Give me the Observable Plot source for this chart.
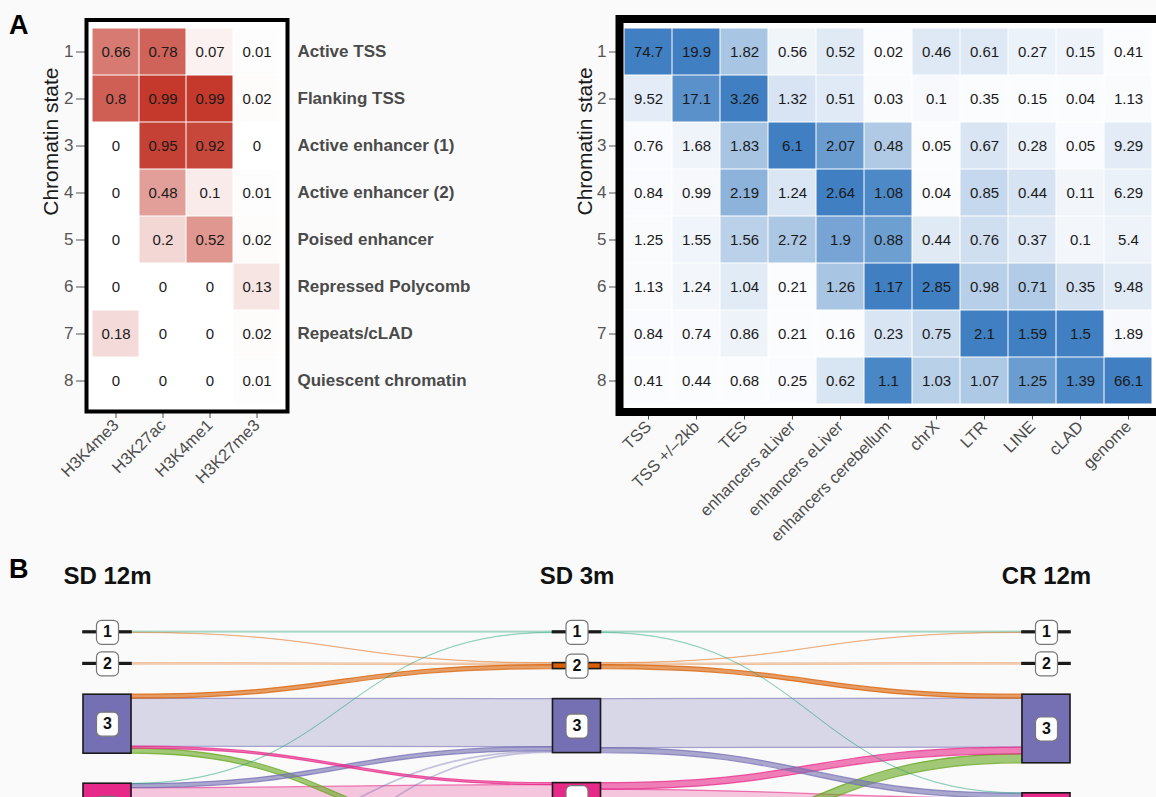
<!DOCTYPE html>
<html><head><meta charset="utf-8">
<script src="https://cdn.jsdelivr.net/npm/d3@7"></script>
<script src="https://cdn.jsdelivr.net/npm/@observablehq/plot@0.6"></script>
<style>
html,body{margin:0;padding:0;background:#fafafa;width:1156px;height:797px;overflow:hidden;font-family:"Liberation Sans",Arial,sans-serif;}
#root{position:relative;width:1156px;height:797px;overflow:hidden;}
.tag{position:absolute;font-weight:bold;font-size:27px;line-height:1;color:#000;}
</style></head><body><div id="root">
<div class="tag" style="left:9px;top:12px">A</div>
<div class="tag" style="left:9px;top:556px">B</div>
</div>
<script>
// ---------- data ----------
const states = [1, 2, 3, 4, 5, 6, 7, 8];
const stateNames = ["Active TSS", "Flanking TSS", "Active enhancer (1)", "Active enhancer (2)",
  "Poised enhancer", "Repressed Polycomb", "Repeats/cLAD", "Quiescent chromatin"];
const histoneMarks = ["H3K4me3", "H3K27ac", "H3K4me1", "H3K27me3"];
const markFreq = [
  [0.66, 0.78, 0.07, 0.01],
  [0.8, 0.99, 0.99, 0.02],
  [0, 0.95, 0.92, 0],
  [0, 0.48, 0.1, 0.01],
  [0, 0.2, 0.52, 0.02],
  [0, 0, 0, 0.13],
  [0.18, 0, 0, 0.02],
  [0, 0, 0, 0.01]
];
const features = ["TSS", "TSS +/\u20132kb", "TES", "enhancers aLiver", "enhancers eLiver",
  "enhancers cerebellum", "chrX", "LTR", "LINE", "cLAD", "genome"];
const enrichment = [
  [74.7, 19.9, 1.82, 0.56, 0.52, 0.02, 0.46, 0.61, 0.27, 0.15, 0.41],
  [9.52, 17.1, 3.26, 1.32, 0.51, 0.03, 0.1, 0.35, 0.15, 0.04, 1.13],
  [0.76, 1.68, 1.83, 6.1, 2.07, 0.48, 0.05, 0.67, 0.28, 0.05, 9.29],
  [0.84, 0.99, 2.19, 1.24, 2.64, 1.08, 0.04, 0.85, 0.44, 0.11, 6.29],
  [1.25, 1.55, 1.56, 2.72, 1.9, 0.88, 0.44, 0.76, 0.37, 0.1, 5.4],
  [1.13, 1.24, 1.04, 0.21, 1.26, 1.17, 2.85, 0.98, 0.71, 0.35, 9.48],
  [0.84, 0.74, 0.86, 0.21, 0.16, 0.23, 0.75, 2.1, 1.59, 1.5, 1.89],
  [0.41, 0.44, 0.68, 0.25, 0.62, 1.1, 1.03, 1.07, 1.25, 1.39, 66.1]
];
const stages = ["SD 12m", "SD 3m", "CR 12m"];
// alluvia: [state at SD 12m, state at SD 3m, state at CR 12m, % of genome]
const alluvia = [
  [1, 1, 1, 0.06], [1, 2, 1, 0.02], [2, 2, 2, 0.08],
  [3, 2, 3, 0.2], [3, 3, 3, 2.4], [3, 4, 3, 0.1], [3, 5, 3, 0.25],
  [4, 1, 4, 0.02], [4, 3, 4, 0.2], [4, 4, 3, 0.23], [4, 4, 4, 1.12], [4, 5, 4, 0.5], [4, 6, 4, 0.4],
  [5, 3, 3, 0.05], [5, 5, 3, 0.2], [5, 5, 5, 1.3], [6, 3, 4, 0.05], [6, 6, 6, 2.0],
  [7, 7, 7, 7.0], [8, 8, 8, 55.0]
];
const labelledStates = [1, 2, 3, 4];
const dark2 = ["#1b9e77", "#d95f02", "#7570b3", "#e7298a", "#66a61e", "#e6ab02", "#a6761d", "#666666"];

const root = document.getElementById("root");
const baseStyle = "background:transparent;max-width:none;position:absolute;left:0;top:0;font-family:'Liberation Sans',Arial,sans-serif;";

// ---------- left heatmap ----------
const cellsA = [];
states.forEach((s, i) => histoneMarks.forEach((m, j) => cellsA.push({state: s, mark: m, v: markFreq[i][j]})));
root.appendChild(Plot.plot({
  width: 560, height: 556,
  marginLeft: 86, marginRight: 560 - 287, marginTop: 19.5, marginBottom: 556 - 411,
  style: baseStyle,
  x: {type: "band", domain: histoneMarks, range: [91, 281], padding: 0},
  y: {type: "band", domain: states, range: [24, 407], padding: 0},
  color: {type: "linear", domain: [0, 1], range: ["#ffffff", "#c3372a"]},
  marks: [
    Plot.frame({fill: "white"}),
    Plot.cell(cellsA, {x: "mark", y: "state", fill: "v", inset: 0.5}),
    Plot.text(cellsA, {x: "mark", y: "state", text: d => String(d.v), fontSize: 15, fill: "#1a1a1a"}),
    Plot.text(stateNames, {y: (d, i) => states[i], text: d => d, frameAnchor: "right", dx: 10, textAnchor: "start",
      fontWeight: "bold", fontSize: 17, fill: "#4a4a4a"}),
    Plot.axisY({tickSize: 10, tickPadding: 3, fontSize: 17, color: "#555", label: null}),
    Plot.axisX({tickRotate: -45, tickSize: 7, tickPadding: 4, fontSize: 16.5, color: "#4d4d4d", label: null}),
    Plot.text(["Chromatin state"], {text: d => d, frameAnchor: "left", rotate: -90, dx: -35, fontSize: 21, fill: "#1a1a1a"}),
    Plot.frame({stroke: "black", strokeWidth: 4})
  ]
}));

// ---------- right heatmap ----------
const colMin = features.map((_, j) => d3.min(enrichment, r => r[j]));
const colMax = features.map((_, j) => d3.max(enrichment, r => r[j]));
const cellsB = [];
states.forEach((s, i) => features.forEach((f, j) => cellsB.push({
  state: s, feature: f, v: enrichment[i][j],
  n: (enrichment[i][j] - colMin[j]) / (colMax[j] - colMin[j])
})));
root.appendChild(Plot.plot({
  width: 1170, height: 556,
  marginLeft: 619, marginRight: 1170 - 1161, marginTop: 18.5, marginBottom: 556 - 411.5,
  style: baseStyle,
  x: {type: "band", domain: features, range: [624, 1152], padding: 0},
  y: {type: "band", domain: states, range: [24, 407], padding: 0},
  color: {type: "linear", domain: [0, 1], range: ["#fbfcfe", "#3f7fc2"]},
  marks: [
    Plot.frame({fill: "white"}),
    Plot.cell(cellsB, {x: "feature", y: "state", fill: "n", inset: 0.5}),
    Plot.text(cellsB, {x: "feature", y: "state", text: d => String(d.v), fontSize: 15, fill: "#1a1a1a"}),
    Plot.axisY({tickSize: 10, tickPadding: 3, fontSize: 17, color: "#555", label: null}),
    Plot.axisX({tickRotate: -45, tickSize: 8, tickPadding: 4, fontSize: 16.5, color: "#4d4d4d", label: null}),
    Plot.text(["Chromatin state"], {text: d => d, frameAnchor: "left", rotate: -90, dx: -34, fontSize: 21, fill: "#1a1a1a"}),
    Plot.frame({stroke: "black", strokeWidth: 8})
  ]
}));

// ---------- alluvial ----------
const gap = 1.5;
const xRange = [107, 1046];
const halfW = 24 / ((xRange[1] - xRange[0]) / 2);
const nodeSize = stages.map((_, k) => {
  const m = new Map(states.map(s => [s, 0]));
  for (const r of alluvia) m.set(r[k], m.get(r[k]) + r[3]);
  return m;
});
const nodeTop = nodeSize.map(m => {
  let acc = 0; const t = new Map();
  for (const s of states) { t.set(s, acc); acc += m.get(s) + gap; }
  return t;
});
const nodes = [];
stages.forEach((_, k) => states.forEach(s => nodes.push({
  stage: k, state: s, y1: nodeTop[k].get(s), y2: nodeTop[k].get(s) + nodeSize[k].get(s)
})));
const segLinks = [0, 1].map(k => {
  const m = new Map();
  for (const r of alluvia) {
    const key = r[k] + "-" + r[k + 1];
    if (!m.has(key)) m.set(key, {k, src: r[k], tgt: r[k + 1], col: r[1], v: 0});
    m.get(key).v += r[3];
  }
  const links = [...m.values()];
  const outOff = new Map(states.map(s => [s, nodeTop[k].get(s)]));
  const inOff = new Map(states.map(s => [s, nodeTop[k + 1].get(s)]));
  [...links].sort((p, q) => p.src - q.src || p.tgt - q.tgt).forEach(l => { l.sy = outOff.get(l.src); outOff.set(l.src, l.sy + l.v); });
  [...links].sort((p, q) => p.tgt - q.tgt || p.src - q.src).forEach(l => { l.ty = inOff.get(l.tgt); inOff.set(l.tgt, l.ty + l.v); });
  return links;
});
const flows = segLinks.flat().sort((p, q) => q.v - p.v);
const flowPts = flows.flatMap((l, i) => [
  {id: i, x: l.k + halfW, y1: l.sy, y2: l.sy + l.v, col: l.col, v: l.v},
  {id: i, x: l.k + 1 - halfW, y1: l.ty, y2: l.ty + l.v, col: l.col, v: l.v}
]);
const roundBox = {
  draw(ctx) {
    const w = 11, h = 12, r = 5;
    ctx.moveTo(-w + r, -h); ctx.lineTo(w - r, -h); ctx.arcTo(w, -h, w, -h + r, r);
    ctx.lineTo(w, h - r); ctx.arcTo(w, h, w - r, h, r);
    ctx.lineTo(-w + r, h); ctx.arcTo(-w, h, -w, h - r, r);
    ctx.lineTo(-w, -h + r); ctx.arcTo(-w, -h, -w + r, -h, r); ctx.closePath();
  }
};
const mid = d => (d.y1 + d.y2) / 2;
const flowStyle = {x: "x", y1: "y1", y2: "y2", z: "id", curve: "bump-x",
  fill: d => dark2[d.col - 1], stroke: d => dark2[d.col - 1]};
root.appendChild(Plot.plot({
  width: 1156, height: 797,
  marginLeft: 0, marginRight: 0, marginTop: 560, marginBottom: 0,
  style: baseStyle,
  x: {type: "linear", domain: [0, 2], range: xRange, axis: null},
  y: {type: "linear", domain: [0, 8.5], range: [631, 801], axis: null},
  color: {type: "identity"},
  marks: [
    Plot.areaY(flowPts.filter(d => d.v >= 1), {...flowStyle, fillOpacity: 0.25, strokeOpacity: 0.6, strokeWidth: 1.2}),
    Plot.areaY(flowPts.filter(d => d.v >= 0.1 && d.v < 1), {...flowStyle, fillOpacity: 0.6, strokeOpacity: 0.75, strokeWidth: 1.2}),
    Plot.areaY(flowPts.filter(d => d.v < 0.1), {...flowStyle, fillOpacity: 0.2, strokeOpacity: 0.3, strokeWidth: 1}),
    Plot.rect(nodes, {x1: "stage", x2: "stage", y1: "y1", y2: "y2", insetLeft: -24, insetRight: -24,
      fill: d => dark2[d.state - 1], stroke: "#1a1a1a", strokeWidth: 1.6}),
    Plot.dot(nodes.filter(d => labelledStates.includes(d.state)), {x: "stage", y: mid, symbol: roundBox, r: 5,
      fill: "white", stroke: "#777", strokeWidth: 1.2}),
    Plot.text(nodes.filter(d => d.state <= 3), {x: "stage", y: mid, text: d => String(d.state), fontWeight: "bold", fontSize: 16, fill: "#111"}),
    Plot.text(stages, {x: (d, i) => i, text: d => d, frameAnchor: "top", lineAnchor: "top", dy: 6,
      fontWeight: "bold", fontSize: 24, fill: "#111"})
  ]
}));
</script>
</body></html>
